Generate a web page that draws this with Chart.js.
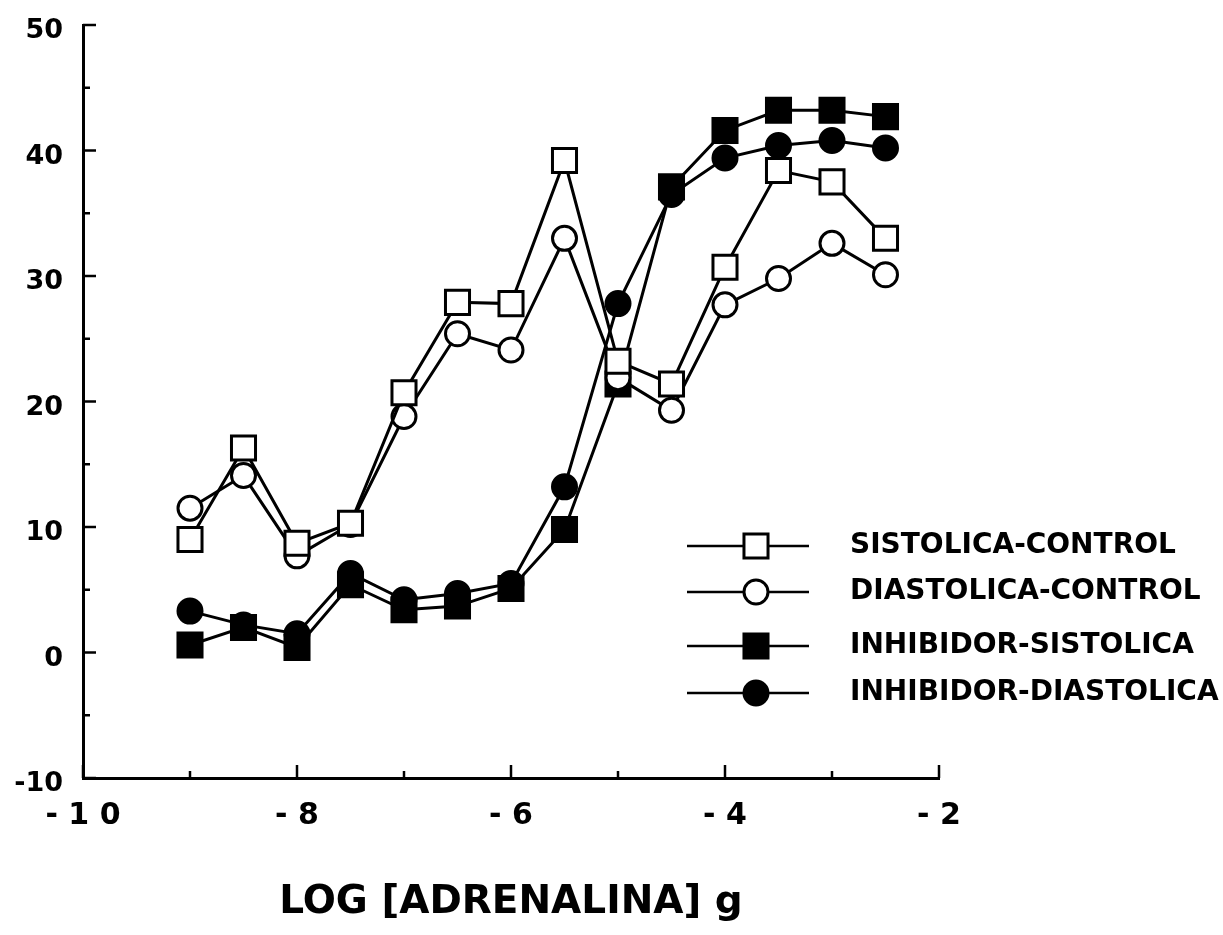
<!DOCTYPE html>
<html><head><meta charset="utf-8">
<script src="https://cdn.jsdelivr.net/npm/chart.js@4/dist/chart.umd.min.js"></script>
<style>html,body{margin:0;padding:0;background:#fff}#wrap{position:relative;width:1223px;height:935px}</style>
</head><body><div id="wrap"><canvas id="c" width="1223" height="935"></canvas></div>
<script>
// ---- data ----
const logDose = [-9, -8.5, -8, -7.5, -7, -6.5, -6, -5.5, -5, -4.5, -4, -3.5, -3, -2.5];
const sistolicaControl   = [9.0, 16.3, 8.7, 10.3, 20.7, 27.9, 27.8, 39.2, 23.2, 21.4, 30.7, 38.4, 37.5, 33.0];
const diastolicaControl  = [11.5, 14.1, 7.7, 10.2, 18.8, 25.4, 24.1, 33.0, 21.9, 19.3, 27.7, 29.8, 32.6, 30.1];
const inhibidorSistolica = [0.6, 2.0, 0.4, 5.4, 3.4, 3.7, 5.1, 9.8, 21.4, 37.1, 41.6, 43.2, 43.2, 42.7];
const inhibidorDiastolica= [3.3, 2.2, 1.5, 6.3, 4.2, 4.7, 5.5, 13.2, 27.8, 36.5, 39.4, 40.4, 40.8, 40.2];
const seriesLabels = ['SISTOLICA-CONTROL', 'DIASTOLICA-CONTROL', 'INHIBIDOR-SISTOLICA', 'INHIBIDOR-DIASTOLICA'];
const xAxisTitle = 'LOG [ADRENALINA] g';
const xRange = [-10, -2];
const yRange = [-10, 50];

// ---- styles ----
const FONT = "'DejaVu Sans', 'Liberation Sans', Arial, sans-serif";
const seriesValues = [sistolicaControl, diastolicaControl, inhibidorSistolica, inhibidorDiastolica];
const markerStyles = [
  {pointStyle: 'rect', radius: 17, fill: '#ffffff'},
  {pointStyle: 'circle', radius: 12, fill: '#ffffff'},
  {pointStyle: 'rect', radius: 17, fill: '#000000'},
  {pointStyle: 'circle', radius: 12, fill: '#000000'}
];

const datasets = seriesValues.map((vals, i) => ({
  label: seriesLabels[i],
  data: logDose.map((x, j) => ({x: x, y: vals[j]})),
  showLine: true,
  borderColor: '#000',
  borderWidth: 3,
  tension: 0,
  fill: false,
  clip: false,
  pointStyle: markerStyles[i].pointStyle,
  pointRadius: markerStyles[i].radius,
  pointBackgroundColor: markerStyles[i].fill,
  pointBorderColor: '#000',
  pointBorderWidth: 3
}));

function fmtX(v) {
  if (v % 2 !== 0) return '';
  const s = String(Math.abs(v)).split('').join(' ');
  return (v < 0 ? '- ' : '') + s;
}

const innerTicks = {
  id: 'innerTicks',
  afterDraw(chart) {
    const ctx = chart.ctx, xs = chart.scales.x, ys = chart.scales.y;
    const a = chart.chartArea;
    ctx.save();
    ctx.strokeStyle = '#000';
    ctx.lineWidth = 2.5;
    xs.ticks.forEach(t => {
      const px = xs.getPixelForValue(t.value);
      const len = (t.value % 2 === 0) ? 13 : 7;
      ctx.beginPath(); ctx.moveTo(px, a.bottom); ctx.lineTo(px, a.bottom - len); ctx.stroke();
    });
    ys.ticks.forEach(t => {
      const py = ys.getPixelForValue(t.value);
      const len = (t.value % 10 === 0) ? 13 : 7;
      ctx.beginPath(); ctx.moveTo(a.left, py); ctx.lineTo(a.left + len, py); ctx.stroke();
    });
    ctx.restore();
  }
};

const customLegend = {
  id: 'customLegend',
  afterDraw(chart) {
    const ctx = chart.ctx;
    const lineX1 = 687, lineX2 = 809, markX = 756, textX = 850;
    const rowY = [546, 592, 646, 693];
    ctx.save();
    chart.data.datasets.forEach((ds, i) => {
      const y = rowY[i];
      ctx.strokeStyle = '#000';
      ctx.lineWidth = 2.5;
      ctx.beginPath(); ctx.moveTo(lineX1, y); ctx.lineTo(lineX2, y); ctx.stroke();
      ctx.fillStyle = markerStyles[i].fill;
      ctx.strokeStyle = '#000';
      ctx.lineWidth = 3;
      const r = markerStyles[i].radius;
      ctx.beginPath();
      if (markerStyles[i].pointStyle === 'rect') {
        const s = Math.SQRT1_2 * r;
        ctx.rect(markX - s, y - s, 2 * s, 2 * s);
      } else {
        ctx.arc(markX, y, r, 0, Math.PI * 2);
      }
      ctx.fill(); ctx.stroke();
      ctx.fillStyle = '#000';
      ctx.font = 'bold 28px ' + FONT;
      ctx.textAlign = 'left';
      ctx.textBaseline = 'middle';
      ctx.fillText(ds.label, textX, y);
    });
    ctx.restore();
  }
};

new Chart(document.getElementById('c'), {
  type: 'line',
  data: {datasets: datasets},
  options: {
    responsive: false,
    animation: false,
    devicePixelRatio: 1,
    layout: {padding: {left: 0, top: 25, right: 284, bottom: 0}},
    plugins: {legend: {display: false}, tooltip: {enabled: false}},
    scales: {
      x: {
        type: 'linear',
        min: xRange[0], max: xRange[1],
        grid: {display: false, drawTicks: false},
        border: {display: true, color: '#000', width: 3},
        ticks: {
          stepSize: 1, autoSkip: false, maxRotation: 0, minRotation: 0,
          color: '#000', padding: 20,
          font: {family: FONT, size: 30, weight: 'bold'},
          callback: (v) => fmtX(v)
        },
        title: {
          display: true, text: xAxisTitle, color: '#000',
          font: {family: FONT, size: 39, weight: 'bold'},
          padding: {top: 0, bottom: 9}
        },
        afterFit: (s) => { s.height = 157; s.paddingLeft = 0; s.paddingRight = 0; }
      },
      y: {
        type: 'linear',
        min: yRange[0], max: yRange[1],
        grid: {display: false, drawTicks: false},
        border: {display: true, color: '#000', width: 3},
        ticks: {
          stepSize: 5, autoSkip: false, color: '#000', padding: 20, labelOffset: 6,
          font: {family: FONT, size: 27, weight: 'bold'},
          callback: (v) => (v % 10 === 0 ? String(v) : '')
        },
        afterFit: (s) => { s.width = 83; s.paddingTop = 0; s.paddingBottom = 0; }
      }
    }
  },
  plugins: [innerTicks, customLegend]
});
</script>
</body></html>
